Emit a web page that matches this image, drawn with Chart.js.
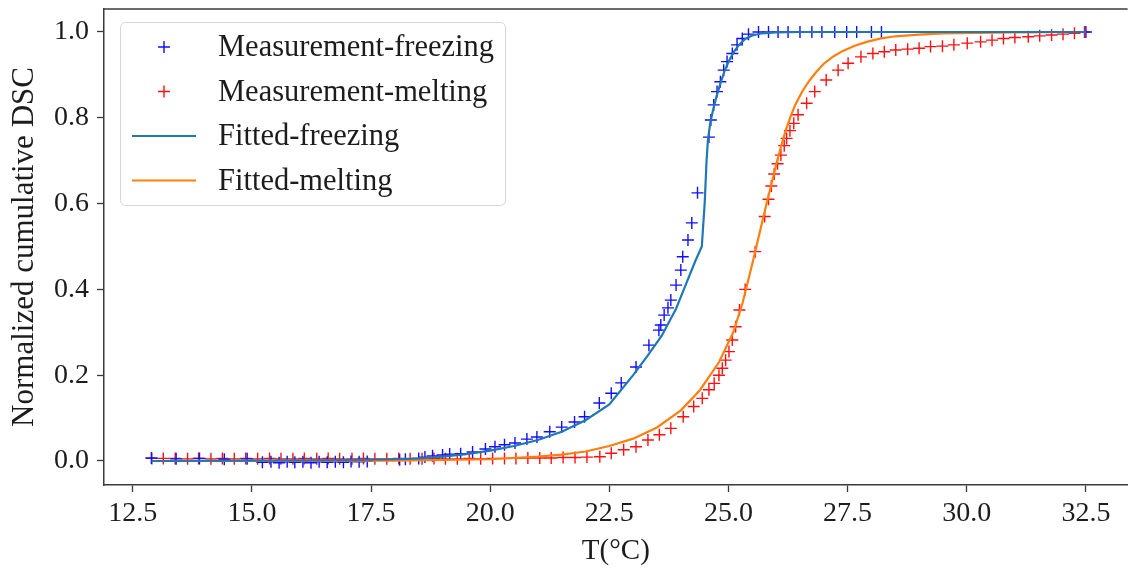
<!DOCTYPE html>
<html>
<head>
<meta charset="utf-8">
<script src="https://cdn.jsdelivr.net/npm/chart.js@4.4.1/dist/chart.umd.min.js"></script>
<style>
html,body{margin:0;padding:0;background:#fff;overflow:hidden;}
#wrap{width:1135px;height:570px;}
</style>
</head>
<body>
<div id="wrap"><canvas id="c" width="1135" height="570"></canvas></div>
<script>
// ---- data ----
const freezeT = [12.89, 13.41, 13.9, 14.42, 14.9,
  15.22, 15.4, 15.57, 15.74, 15.9, 16.07, 16.24, 16.41, 16.58, 16.75, 16.92, 17.08, 17.25, 17.42,
  18.1, 18.22, 18.5, 18.63, 18.79, 19.0, 19.15, 19.38, 19.63, 19.9, 20.1, 20.3, 20.52, 20.77, 20.98,
  21.25, 21.5, 21.77, 21.98, 22.29, 22.54, 22.75, 23.06, 23.33, 23.54, 23.58, 23.65, 23.73, 23.79,
  23.9, 24.0, 24.04, 24.15, 24.23, 24.35, 24.59, 24.63, 24.69, 24.76, 24.83, 24.9, 24.97, 25.08,
  25.18, 25.29, 25.42, 25.63, 25.84, 26.04, 26.25, 26.5, 26.75, 26.96, 27.23, 27.48, 27.69, 28.0,
  28.21, 32.5];
const freezeV = [0.007, 0.005, 0.006, 0.004, 0.005,
  -0.003, -0.002, -0.004, -0.002, -0.003, -0.002, -0.004, -0.002, -0.003, -0.002, -0.003, -0.001, -0.002, -0.001,
  0.003, 0.004, 0.006, 0.009, 0.012, 0.014, 0.016, 0.017, 0.021, 0.028, 0.033, 0.038, 0.042, 0.051, 0.056,
  0.068, 0.079, 0.091, 0.103, 0.135, 0.158, 0.182, 0.219, 0.27, 0.305, 0.317, 0.34, 0.357, 0.375,
  0.41, 0.445, 0.476, 0.515, 0.555, 0.625, 0.755, 0.795, 0.83, 0.861, 0.884, 0.911, 0.931, 0.95,
  0.97, 0.985, 0.995, 1.0, 1.0, 1.0, 1.0, 1.0, 1.0, 1.0, 1.0, 1.0, 1.0, 1.0,
  1.0, 1.0];

const meltT = [12.9, 13.14, 13.39, 13.65, 13.88, 14.14, 14.38, 14.63, 14.87, 15.12, 15.37, 15.61, 15.86,
  16.1, 16.36, 16.6, 16.84, 17.1, 17.34, 17.58, 17.83, 18.08, 18.32, 18.57, 18.82, 19.06, 19.31,
  19.56, 19.8, 20.05, 20.3, 20.54, 20.79, 21.04, 21.28, 21.53, 21.78, 22.03,
  22.3, 22.54, 22.8, 23.06, 23.31, 23.55, 23.79, 24.05, 24.27, 24.45, 24.59, 24.7, 24.8, 24.87,
  24.94, 25.01, 25.08, 25.15, 25.23, 25.35, 25.56, 25.76, 25.84, 25.9, 25.96, 26.03, 26.1, 26.17,
  26.22, 26.29, 26.37, 26.46, 26.64, 26.81, 27.05, 27.3, 27.51, 27.78, 28.03, 28.27, 28.51, 28.76,
  29.0, 29.24, 29.49, 29.73, 30.01, 30.29, 30.53, 30.77, 31.01, 31.29, 31.53, 31.78, 32.02, 32.26,
  32.47];
const meltV = [0.006, 0.006, 0.006, 0.005, 0.006, 0.005, 0.006, 0.005, 0.006, 0.005, 0.006, 0.005, 0.005,
  0.006, 0.005, 0.006, 0.005, 0.005, 0.006, 0.005, 0.005, 0.006, 0.005, 0.005, 0.006, 0.005, 0.005,
  0.006, 0.005, 0.006, 0.006, 0.006, 0.007, 0.007, 0.007, 0.008, 0.008, 0.009,
  0.01, 0.018, 0.026, 0.033, 0.049, 0.061, 0.076, 0.103, 0.127, 0.146, 0.166, 0.181, 0.2, 0.216,
  0.235, 0.255, 0.282, 0.313, 0.352, 0.4, 0.488, 0.57, 0.61, 0.641, 0.669, 0.693, 0.713, 0.735,
  0.752, 0.77, 0.787, 0.807, 0.834, 0.861, 0.888, 0.911, 0.927, 0.942, 0.95, 0.954, 0.958, 0.96,
  0.962, 0.966, 0.967, 0.97, 0.974, 0.977, 0.981, 0.985, 0.987, 0.989, 0.991, 0.993, 0.995, 0.997,
  1.0];

const fitFreezeT = [12.9, 15.0, 17.0, 18.0, 18.5, 19.0, 19.5, 20.0, 20.5, 21.0, 21.5, 22.0, 22.5, 23.0,
  23.3, 23.6, 23.9, 24.1, 24.3, 24.44, 24.5, 24.54, 24.57, 24.62, 24.68, 24.75, 24.83, 24.92, 25.02,
  25.12, 25.22, 25.35, 25.5, 25.7, 26.0, 26.5, 28.0, 32.5];
const fitFreezeV = [0.0, 0.001, 0.002, 0.004, 0.006, 0.01, 0.016, 0.024, 0.035, 0.049, 0.068, 0.095, 0.132, 0.2,
  0.245, 0.292, 0.355, 0.41, 0.465, 0.5, 0.6, 0.7, 0.75, 0.79, 0.82, 0.85, 0.88, 0.91, 0.935,
  0.955, 0.97, 0.984, 0.992, 0.997, 0.999, 1.0, 1.0, 1.0];

const fitMeltT = [12.9, 18.0, 20.0, 21.0, 21.5, 22.0, 22.5, 23.0, 23.5, 24.0, 24.4, 24.8, 25.1, 25.3,
  25.5, 25.65, 25.8, 25.9, 26.0, 26.1, 26.2, 26.3, 26.4, 26.55, 26.7, 26.85, 27.0, 27.2, 27.4, 27.65,
  27.9, 28.2, 28.5, 29.0, 29.5, 31.0, 32.5];
const fitMeltV = [0.0, 0.001, 0.004, 0.01, 0.015, 0.022, 0.035, 0.052, 0.078, 0.118, 0.165, 0.23, 0.3, 0.37,
  0.46, 0.53, 0.6, 0.645, 0.69, 0.732, 0.77, 0.802, 0.83, 0.862, 0.887, 0.908, 0.926, 0.943, 0.956, 0.968,
  0.977, 0.985, 0.99, 0.994, 0.997, 0.999, 1.0];

const xTicks = [12.5, 15.0, 17.5, 20.0, 22.5, 25.0, 27.5, 30.0, 32.5];
const yTicks = [0.0, 0.2, 0.4, 0.6, 0.8, 1.0];

const seriesNames = ['Measurement-freezing', 'Measurement-melting', 'Fitted-freezing', 'Fitted-melting'];

// ---- build ----
const zip = (xs, ys) => xs.map((x, i) => ({x: x, y: ys[i]}));
const FONT = "'Liberation Serif', 'Times New Roman', serif";
const TXT = '#1c1c1c';
const AX = '#3a3a3a';

const insideLegend = {
  id: 'insideLegend',
  afterDraw(chart) {
    const ctx = chart.ctx;
    const ca = chart.chartArea;
    // top spine
    ctx.save();
    ctx.strokeStyle = AX;
    ctx.lineWidth = 1.5;
    ctx.beginPath();
    ctx.moveTo(ca.left, ca.top);
    ctx.lineTo(ca.right, ca.top);
    ctx.stroke();
    ctx.restore();

    const bx = ca.left + 16, by = ca.top + 13, bw = 385, bh = 183;
    ctx.save();
    ctx.fillStyle = 'rgba(255,255,255,0.85)';
    ctx.strokeStyle = '#d6d6d6';
    ctx.lineWidth = 1;
    ctx.beginPath();
    ctx.roundRect(bx + 0.5, by + 0.5, bw, bh, 5);
    ctx.fill();
    ctx.stroke();
    ctx.font = '30.5px ' + FONT;
    ctx.textBaseline = 'middle';
    ctx.fillStyle = TXT;
    const rowH = 44.5;
    chart.data.datasets.forEach((ds, i) => {
      const cy = by + 25 + i * rowH;
      const hx = bx + 44;
      if (ds.showLine) {
        ctx.strokeStyle = ds.borderColor;
        ctx.lineWidth = 2.2;
        ctx.beginPath();
        ctx.moveTo(hx - 32, cy);
        ctx.lineTo(hx + 32, cy);
        ctx.stroke();
      } else {
        ctx.strokeStyle = ds.borderColor;
        ctx.lineWidth = 1.4;
        ctx.beginPath();
        ctx.moveTo(hx - 6, cy); ctx.lineTo(hx + 6, cy);
        ctx.moveTo(hx, cy - 6); ctx.lineTo(hx, cy + 6);
        ctx.stroke();
      }
      ctx.fillStyle = TXT;
      ctx.fillText(ds.label, bx + 98, cy + 1);
    });
    ctx.restore();
  }
};

new Chart(document.getElementById('c'), {
  type: 'scatter',
  data: {
    datasets: [
      {label: seriesNames[0], data: zip(freezeT, freezeV), pointStyle: 'cross', pointRadius: 6,
       borderColor: '#1010ff', backgroundColor: '#1010ff', pointBorderWidth: 1.4, showLine: false, order: 2},
      {label: seriesNames[1], data: zip(meltT, meltV), pointStyle: 'cross', pointRadius: 6,
       borderColor: '#ff1010', backgroundColor: '#ff1010', pointBorderWidth: 1.4, showLine: false, order: 2},
      {label: seriesNames[2], data: zip(fitFreezeT, fitFreezeV), showLine: true, pointRadius: 0,
       borderColor: '#1f77b4', borderWidth: 2.2, tension: 0, fill: false, order: 1},
      {label: seriesNames[3], data: zip(fitMeltT, fitMeltV), showLine: true, pointRadius: 0,
       borderColor: '#ff7f0e', borderWidth: 2.2, tension: 0, fill: false, order: 1}
    ]
  },
  options: {
    responsive: false,
    animation: false,
    layout: {padding: {left: 0, right: 0, top: 9, bottom: 0}},
    plugins: {legend: {display: false}, tooltip: {enabled: false}},
    scales: {
      x: {
        type: 'linear', min: 11.896, max: 33.375,
        afterBuildTicks: s => { s.ticks = xTicks.map(v => ({value: v})); },
        afterFit: s => { s.height = 85; s.paddingLeft = 0; s.paddingRight = 0; },
        ticks: {callback: v => Number(v).toFixed(1), font: {family: FONT, size: 28}, color: TXT,
                padding: 5, autoSkip: false, maxRotation: 0},
        grid: {display: true, drawOnChartArea: false, drawTicks: true, tickLength: 7, tickWidth: 1.3, tickColor: AX},
        border: {display: true, color: AX, width: 1.5},
        title: {display: true, text: 'T(°C)', font: {family: FONT, size: 29}, color: TXT, padding: {top: 0, bottom: 1}}
      },
      y: {
        type: 'linear', min: -0.056, max: 1.0536,
        afterBuildTicks: s => { s.ticks = yTicks.map(v => ({value: v})); },
        afterFit: s => { s.width = 104; s.paddingTop = 0; s.paddingBottom = 0; },
        ticks: {callback: v => Number(v).toFixed(1), font: {family: FONT, size: 28}, color: TXT, padding: 8},
        grid: {display: true, drawOnChartArea: false, drawTicks: true, tickLength: 7, tickWidth: 1.3, tickColor: AX},
        border: {display: true, color: AX, width: 1.5},
        title: {display: true, text: 'Normalized cumulative DSC', font: {family: FONT, size: 31}, color: TXT,
                padding: {top: 6, bottom: 0}}
      }
    }
  },
  plugins: [insideLegend]
});
</script>
</body>
</html>
